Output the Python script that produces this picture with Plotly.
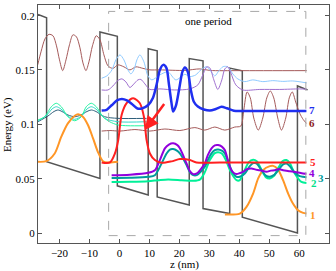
import plotly.graph_objects as go

# ---------------- data (z in nm, energy in eV) ----------------
pot_z = [-27.17, -24.3, -24.3, -6.5, -6.5, -0.7, -0.7, 9.6, 9.6, 12.6, 12.6, 23.3, 23.3, 27.9, 27.9, 36.8, 36.8, 41.0, 41.0, 59.4, 59.4, 62.8]
pot_E = [0.201, 0.198, 0.0655, 0.0502, 0.185, 0.181, 0.0434, 0.0350, 0.1695, 0.1676, 0.0332, 0.0258, 0.1605, 0.1584, 0.0225, 0.0179, 0.1517, 0.1492, 0.0146, 0.0, 0.1353, 0.1317]

s1a_z = [-27.17, -24.4, -21.6, -19.4, -17.2, -14.9, -13.8, -12.2, -10.5, -8.8, -7.2, -5.5, -3.8, -0.5]
s1a_E = [0.0655, 0.0661, 0.0732, 0.0886, 0.1009, 0.1079, 0.1092, 0.1070, 0.0994, 0.0871, 0.0747, 0.0661, 0.0649, 0.0655]
s1b_z = [35.2, 40.2, 42.4, 44.6, 46.3, 47.9, 50.2, 51.3, 52.9, 54.6, 56.3, 57.9, 59.6, 61.3, 62.4]
s1b_E = [0.0170, 0.0179, 0.0240, 0.0363, 0.0502, 0.0578, 0.0615, 0.0618, 0.0585, 0.0486, 0.0363, 0.0271, 0.0209, 0.0185, 0.0179]

s2_z = [-2.6, 3.5, 9.6, 12.93, 16.27, 20.73, 24.6, 26.83, 28.5, 30.17, 31.83, 32.93, 34.17, 35.5, 37.17, 39.07, 40.17, 41.5, 43.17, 44.6, 45.83, 47.5, 48.83, 50.17, 51.5, 53.17, 54.5, 55.73, 56.83, 58.5, 60.73, 62.4]
s2_E = [0.0470, 0.0472, 0.0477, 0.0486, 0.0493, 0.0486, 0.0480, 0.0491, 0.0560, 0.0671, 0.0735, 0.0744, 0.0731, 0.0671, 0.0560, 0.0486, 0.0486, 0.0560, 0.0652, 0.0675, 0.0661, 0.0578, 0.0514, 0.0502, 0.0523, 0.0606, 0.0661, 0.0671, 0.0643, 0.0548, 0.0470, 0.0461]

s3_z = [-2.6, 3.5, 9.6, 11.83, 14.07, 15.73, 16.83, 17.93, 19.17, 20.17, 22.4, 23.5, 24.6, 25.83, 27.17, 28.5, 29.5, 30.73, 31.83, 32.93, 34.17, 35.17, 37.4, 39.07, 40.17, 41.83, 43.5, 44.67, 45.73, 47.4, 48.83, 50.17, 51.5, 53.17, 54.5, 55.73, 56.83, 58.5, 60.17, 61.27, 62.4]
s3_E = [0.0507, 0.0509, 0.0517, 0.0532, 0.0640, 0.0732, 0.0768, 0.0772, 0.0758, 0.0732, 0.0625, 0.0560, 0.0532, 0.0532, 0.0565, 0.0609, 0.0671, 0.0732, 0.0763, 0.0769, 0.0758, 0.0732, 0.0578, 0.0517, 0.0518, 0.0548, 0.0615, 0.0643, 0.0640, 0.0578, 0.0528, 0.0517, 0.0532, 0.0583, 0.0629, 0.0640, 0.0615, 0.0555, 0.0523, 0.0517, 0.0514]

s4_z = [-2.6, 3.5, 9.6, 11.83, 13.5, 15.17, 16.5, 17.93, 19.33, 20.17, 22.4, 23.5, 24.6, 25.83, 27.17, 28.5, 29.5, 30.73, 31.83, 32.93, 34.17, 35.17, 36.83, 37.83, 39.07, 40.17, 41.27, 42.5, 44.07, 45.5, 46.83, 49.07, 50.5, 51.83, 53.17, 54.6, 56.83, 59.17, 61.27, 62.4]
s4_E = [0.0532, 0.0537, 0.0554, 0.0578, 0.0671, 0.0779, 0.0814, 0.0825, 0.0809, 0.0779, 0.0640, 0.0569, 0.0542, 0.0548, 0.0588, 0.0640, 0.0717, 0.0779, 0.0806, 0.0809, 0.0795, 0.0763, 0.0609, 0.0560, 0.0542, 0.0551, 0.0563, 0.0588, 0.0594, 0.0583, 0.0578, 0.0563, 0.0574, 0.0578, 0.0588, 0.0578, 0.0569, 0.0560, 0.0548, 0.0546]

s5_z = [-5.93, -3.17, -1.5, -0.4, 0.73, 2.4, 4.6, 6.83, 8.17, 9.07, 10.17, 11.83, 14.07, 17.4, 20.2, 23.5, 25.7, 33.5, 62.4]
s5_E = [0.0649, 0.0649, 0.0732, 0.0855, 0.1086, 0.1194, 0.1240, 0.1194, 0.1070, 0.0855, 0.0732, 0.0671, 0.0646, 0.0659, 0.0680, 0.0672, 0.0649, 0.0649, 0.0649]

s6_z = [-5.93, -3.17, 0.17, 5.17, 10.17, 15.17, 20.17, 25.17, 28.5, 31.83, 35.17, 38.5, 40.5, 41.5, 42.6, 43.67, 44.83, 46.33, 47.83, 49.17, 50.33, 51.5, 52.83, 54.07, 55.5, 56.67, 57.67, 58.83, 60.17, 61.33, 62.4]
s6_E = [0.0938, 0.0943, 0.0938, 0.0952, 0.0938, 0.0957, 0.0943, 0.0970, 0.0947, 0.0975, 0.0947, 0.0975, 0.0984, 0.1132, 0.1298, 0.1243, 0.1058, 0.0947, 0.1058, 0.1243, 0.1307, 0.1243, 0.1058, 0.0947, 0.1058, 0.1243, 0.1298, 0.1205, 0.1101, 0.1044, 0.1009]

s6u_z = [-27.27, -26.17, -24.83, -23.5, -22.17, -21.0, -20.0, -18.93, -17.83, -16.67, -15.5, -14.33, -13.17, -12.17, -11.17, -10.17, -9.0, -7.73, -6.5, -5.17, -3.83, -2.17, -0.5, 1.5, 3.5, 5.5, 7.83, 10.17, 13.5, 21.83, 26.83, 30.17, 40.17, 62.5]
s6u_E = [0.1547, 0.1667, 0.1787, 0.1828, 0.1815, 0.1722, 0.1593, 0.1494, 0.1593, 0.1732, 0.1824, 0.1805, 0.1704, 0.1565, 0.1494, 0.1575, 0.1722, 0.1815, 0.1778, 0.1639, 0.1538, 0.1515, 0.1547, 0.1529, 0.1501, 0.1529, 0.1515, 0.1501, 0.1501, 0.1496, 0.1510, 0.1496, 0.1494, 0.1494]

s7_z = [-5.93, -4.27, -2.5, -0.83, 0.83, 2.5, 4.17, 6.0, 7.5, 9.6, 11.17, 12.5, 13.5, 14.6, 15.67, 16.5, 17.33, 17.93, 18.83, 20.0, 21.0, 21.83, 22.83, 23.83, 24.83, 26.17, 28.17, 30.17, 32.17, 34.07, 35.83, 38.17, 41.83, 62.4]
s7_E = [0.1127, 0.1134, 0.1178, 0.1220, 0.1233, 0.1220, 0.1187, 0.1146, 0.1146, 0.1178, 0.1243, 0.1378, 0.1501, 0.1547, 0.1519, 0.1372, 0.1206, 0.1118, 0.1169, 0.1335, 0.1482, 0.1524, 0.1482, 0.1316, 0.1208, 0.1164, 0.1137, 0.1127, 0.1141, 0.1161, 0.1148, 0.1125, 0.1123, 0.1123]

lb_z = [-5.93, -4.17, -2.5, -1.17, 0.17, 1.5, 2.83, 3.83, 4.83, 5.83, 6.83, 8.17, 9.5, 10.83, 13.5, 16.17, 18.83, 21.83, 23.5, 25.5, 26.83, 29.07, 30.17, 31.83, 33.17, 34.6, 36.17, 37.83, 39.5, 41.83, 44.5, 47.83, 51.17, 54.5, 57.83, 62.5]
lb_E = [0.1424, 0.1446, 0.1501, 0.1593, 0.1639, 0.1593, 0.1501, 0.1464, 0.1501, 0.1593, 0.1639, 0.1575, 0.1446, 0.1409, 0.1455, 0.1483, 0.1409, 0.1460, 0.1439, 0.1455, 0.1492, 0.1531, 0.1501, 0.1446, 0.1492, 0.1531, 0.1529, 0.1464, 0.1418, 0.1393, 0.1409, 0.1393, 0.1402, 0.1395, 0.1399, 0.1381]

pt_z = [-5.93, -3.83, -2.17, -0.5, 0.83, 2.17, 3.5, 4.83, 6.17, 7.17, 8.5, 10.17, 13.5, 18.5, 23.5, 26.17, 27.83, 29.17, 30.17, 31.5, 32.83, 34.17, 35.17, 36.17, 37.17, 38.83, 41.17, 46.83, 53.5, 60.17, 62.5]
pt_E = [0.1316, 0.1316, 0.1353, 0.1404, 0.1418, 0.1390, 0.1339, 0.1372, 0.1409, 0.1413, 0.1372, 0.1321, 0.1326, 0.1316, 0.1326, 0.1363, 0.1455, 0.1529, 0.1519, 0.1409, 0.1321, 0.1409, 0.1510, 0.1529, 0.1473, 0.1363, 0.1316, 0.1321, 0.1321, 0.1326, 0.1323]

u2_z = [-27.17, -24.93, -22.73, -21.07, -19.4, -17.17, -14.93, -12.73, -11.07, -9.4, -7.73, -5.5, -3.27, -0.5, 2.83, 9.07]
u2_E = [0.1040, 0.1070, 0.1162, 0.1194, 0.1162, 0.1070, 0.1033, 0.1070, 0.1162, 0.1194, 0.1162, 0.1070, 0.1024, 0.0994, 0.0987, 0.0987]
u3_z = [-27.17, -24.17, -22.5, -21.07, -19.5, -17.5, -14.93, -12.5, -10.83, -9.4, -7.83, -4.93, -0.5, 9.07]
u3_E = [0.1030, 0.1086, 0.1141, 0.1162, 0.1141, 0.1081, 0.1046, 0.1081, 0.1141, 0.1162, 0.1141, 0.1055, 0.1024, 0.1024]
u4_z = [-27.17, -23.83, -21.83, -20.5, -19.17, -17.17, -14.93, -12.83, -10.83, -9.4, -7.83, -4.93, -0.5, 9.07]
u4_E = [0.1024, 0.1077, 0.1118, 0.1132, 0.1118, 0.1086, 0.1070, 0.1086, 0.1118, 0.1132, 0.1118, 0.1070, 0.1055, 0.1055]

box_z = [-3.6, 62.2]
box_E = [-0.0024, 0.2039]

state_labels = ["1", "2", "3", "4", "5", "6", "7"]
label_z = [64.5, 64.8, 67.4, 64.4, 64.5, 64.4, 64.1]
label_E = [0.0163, 0.0461, 0.0507, 0.0554, 0.0652, 0.1009, 0.1132]

x_ticks = [-20, -10, 0, 10, 20, 30, 40, 50, 60]
y_ticks = [0, 0.05, 0.1, 0.15, 0.2]
y_tick_text = ["0", "0.05", "0.1", "0.15", "0.2"]

# ---------------- figure ----------------
C_POT = "#555555"
C1, C2, C3, C4, C5, C6, C7 = "#FF9626", "#00F098", "#009C9C", "#9200DC", "#FF2020", "#8B1A1A", "#1F2FF0"
FONT = "Liberation Serif"

fig = go.Figure()

def add(z, e, color, width, smooth=True):
    fig.add_trace(go.Scatter(x=z, y=e, mode="lines",
                             line=dict(color=color, width=width,
                                       shape="spline" if smooth else "linear",
                                       smoothing=0.8),
                             hoverinfo="skip", showlegend=False))

add(pot_z, pot_E, C_POT, 1.5, smooth=False)
add(s6u_z, s6u_E, "#A55A5A", 1)
add(s6_z, s6_E, "#A55A5A", 1)
add(lb_z, lb_E, "#8FCBFF", 1)
add(pt_z, pt_E, "#A070D0", 1)
add(u4_z, u4_E, "#2F5F7A", 1)
add(u3_z, u3_E, "#33D8C8", 1)
add(u2_z, u2_E, "#22F5A0", 1)
add(s1a_z, s1a_E, C1, 2)
add(s1b_z, s1b_E, C1, 2)
add(s2_z, s2_E, C2, 2)
add(s3_z, s3_E, C3, 2)
add(s4_z, s4_E, C4, 2)
add(s5_z, s5_E, C5, 2)
add(s7_z, s7_E, C7, 2.5)

fig.add_shape(type="rect", x0=box_z[0], x1=box_z[1], y0=box_E[0], y1=box_E[1],
              xref="x", yref="y", line=dict(color="#A8A8A8", width=1, dash="dash"))

fig.add_annotation(x=29.8, y=0.1953, text="one period", showarrow=False,
                   font=dict(family=FONT, size=11, color="black"))

# red arrow
fig.add_annotation(x=8.5, y=0.0947, ax=15.3, ay=0.1200, xref="x", yref="y",
                   axref="x", ayref="y", text="", showarrow=True,
                   arrowhead=2, arrowsize=1.1, arrowwidth=2.5, arrowcolor=C5)

label_colors = [C1, "#00E08A", C3, C4, C5, C6, C7]
for t, z, e, c in zip(state_labels, label_z, label_E, label_colors):
    fig.add_annotation(x=z, y=e, text="<b>%s</b>" % t, showarrow=False,
                       font=dict(family=FONT, size=11, color=c), xanchor="center")

# axis titles as annotations (paper coords)
fig.add_annotation(xref="paper", yref="paper", x=0.505, y=-0.092, text="z (nm)",
                   showarrow=False, font=dict(family=FONT, size=11, color="black"),
                   xanchor="center", yanchor="middle")
fig.add_annotation(xref="paper", yref="paper", x=-0.103, y=0.496, text="Energy (eV)",
                   showarrow=False, textangle=-90, font=dict(family=FONT, size=11, color="black"),
                   xanchor="center", yanchor="middle")

axis_common = dict(showline=True, linecolor="#555555", linewidth=1, mirror="ticks",
                   ticks="inside", ticklen=4, tickcolor="#555555", showgrid=False,
                   zeroline=False, automargin=False,
                   tickfont=dict(family=FONT, size=11, color="black"))

fig.update_xaxes(range=[-27.17, 69.93], tickvals=x_ticks,
                 ticktext=[("\u2212%d" % -v) if v < 0 else str(v) for v in x_ticks],
                 **axis_common)
fig.update_yaxes(range=[-0.0092, 0.2098], tickvals=y_ticks, ticktext=y_tick_text,
                 **axis_common)

fig.update_layout(width=336, height=271, margin=dict(l=38, r=7, t=5, b=28),
                  plot_bgcolor="white", paper_bgcolor="white")

fig.write_html("out.html", config={"displayModeBar": False},
               post_script="document.body.style.margin='0';document.body.style.padding='0';document.body.style.overflow='hidden';")
